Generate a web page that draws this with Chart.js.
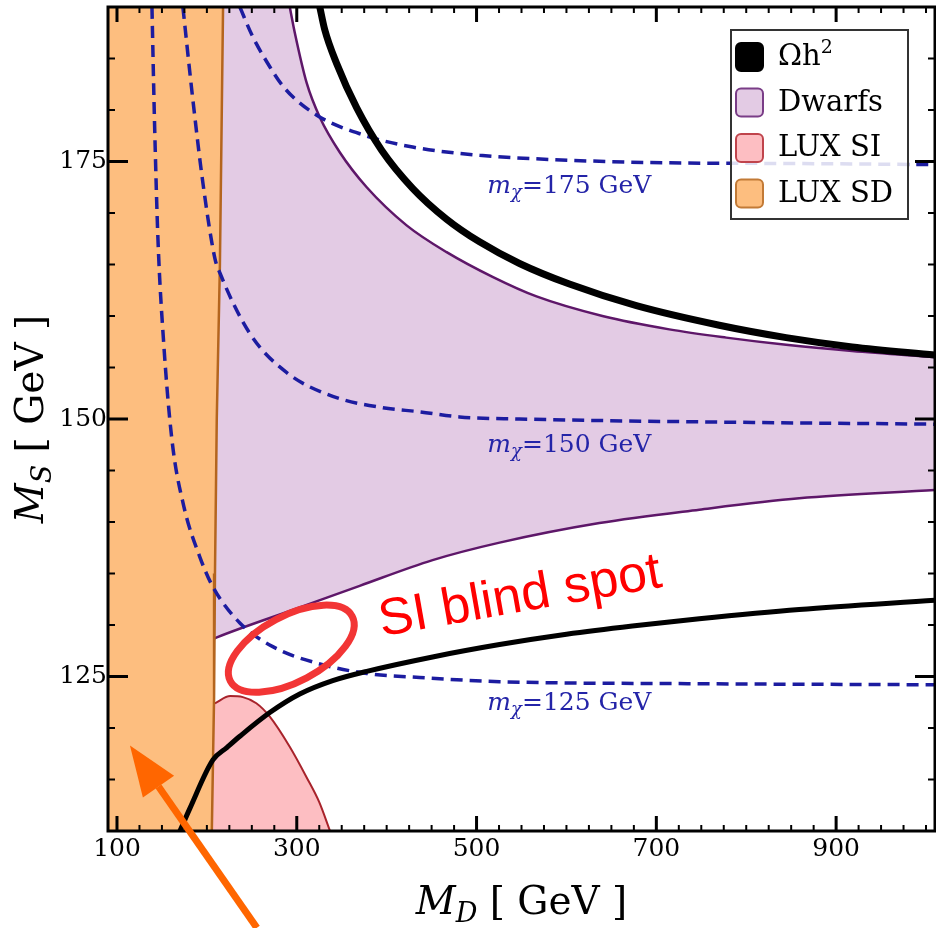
<!DOCTYPE html>
<html>
<head>
<meta charset="utf-8">
<script src="https://cdn.jsdelivr.net/npm/chart.js@4.4.1/dist/chart.umd.min.js"></script>
<style>
    html, body { margin: 0; padding: 0; background: #fff; }
</style>
</head>
<body>
<canvas id="chart" width="936" height="928"></canvas>
<script>
'use strict';

// axes
var xTicks = [100, 300, 500, 700, 900];
var yTicks = [125, 150, 175];

// LUX SD excluded band, right edge (M_D vs M_S)
var sdEdgeX = [218, 214.5, 211, 209, 208, 205.5];
var sdEdgeY = [190, 165, 150, 135, 123, 110];

// dwarf galaxy limit, upper and lower edge
var dwUpX = [292.2, 297.8, 311.1, 325.6, 347.8, 377.8, 422.2, 466.7, 517.8, 566.7, 640, 714.4, 777.8, 844.4, 917.8, 1010];
var dwUpY = [190, 187.5, 182.6, 179.3, 175.9, 172.5, 168.8, 166.2, 163.8, 161.9, 160, 158.7, 157.9, 157.2, 156.6, 156.0];
var dwLoX = [208.5, 211.1, 303.3, 370, 451.1, 525.6, 636.7, 747.8, 858.9, 1010];
var dwLoY = [128.7, 128.8, 131.7, 133.8, 136.3, 138.0, 139.9, 141.2, 142.3, 143.1];

// relic density contours
var relicUpX = [325.6, 331.1, 344.4, 366.7, 394.4, 428.9, 466.7, 503.3, 547.8, 603.3, 677.8, 770, 844.4, 917.8, 1010];
var relicUpY = [190, 187.8, 184.5, 180.2, 176.1, 172.4, 169.4, 167.2, 165.1, 163.1, 161.0, 159.1, 157.9, 157.0, 156.2];
var relicLoX = [170, 181.1, 206.7, 222.2, 236.7, 270, 303.3, 340, 377.8, 451.1, 525.6, 600, 673.3, 747.8, 858.9, 1010];
var relicLoY = [110, 112.2, 116.9, 118.1, 119.2, 121.5, 123.3, 124.6, 125.5, 126.9, 128.1, 129.1, 129.9, 130.6, 131.5, 132.4];

// LUX SI excluded region, upper edge
var siX = [204, 209, 226, 240, 255, 270, 292, 311, 325, 337];
var siY = [122.2, 122.4, 123.1, 123.0, 122.4, 121.1, 118.2, 115.2, 112.8, 110];

// m_chi contours
var mchiValues = [175, 150, 125];
var m175X = [236.7, 250, 264.4, 286.7, 322.2, 373.3, 428.9, 503.3, 581.1, 692.2, 858.9, 1010];
var m175Y = [190, 187.3, 185.0, 182.1, 179.5, 177.6, 176.4, 175.6, 175.2, 174.9, 174.8, 174.7];
var m150X = [173.3, 184.4, 195.6, 208.9, 214.4, 247.8, 288.9, 340, 395.6, 436.7, 481.1, 547.8, 770, 1010];
var m150Y = [190, 181, 172.9, 165.6, 164.2, 158.3, 154.5, 152.2, 151.1, 150.7, 150.2, 150, 149.7, 149.5];
var m125X = [138.9, 141.7, 145.6, 151.7, 161.1, 174.4, 192.2, 206.7, 236.7, 273.3, 322.2, 377.8, 436.7, 525.6, 747.8, 1010];
var m125Y = [190, 179.0, 167.4, 157.7, 148.0, 141.5, 136.6, 133.7, 130.2, 127.9, 126.3, 125.3, 124.9, 124.5, 124.3, 124.2];

var legendLabels = ['\u03A9h', 'Dwarfs', 'LUX SI', 'LUX SD'];

var SERIF = 'DejaVu Serif';
var DASH_BLUE = '#1c1ca0';

function pts(xs, ys) {
    return xs.map(function (x, i) {
        return { x: x, y: ys[i] };
    });
}

function reversed(a) {
    return a.slice().reverse();
}

function lineSet(data, color, width, order, dash, smooth) {
    return {
        data: data,
        borderColor: color,
        borderWidth: width,
        borderDash: dash || [],
        backgroundColor: 'transparent',
        fill: false,
        cubicInterpolationMode: smooth === false ? 'default' : 'monotone',
        tension: 0,
        pointRadius: 0,
        order: order
    };
}

function fillSet(data, color, order) {
    return {
        data: data,
        borderColor: 'rgba(0,0,0,0)',
        borderWidth: 0,
        backgroundColor: color,
        fill: 'shape',
        tension: 0,
        pointRadius: 0,
        order: order
    };
}

var sdPoly = pts(sdEdgeX, sdEdgeY).concat([{ x: 90, y: 110 }, { x: 90, y: 190 }]);
var dwPoly = pts(dwUpX, dwUpY)
    .concat(reversed(pts(dwLoX, dwLoY)))
    .concat([{ x: 200, y: 128.7 }, { x: 200, y: 190 }]);
var siPoly = pts(siX, siY).concat([{ x: 204, y: 110 }]);

// draw a run of text pieces (font, offset) from x, baseline y
function textRuns(ctx, runs, x, y, align) {
    var total = 0;
    runs.forEach(function (r) {
        ctx.font = r[1];
        total += ctx.measureText(r[0]).width;
    });
    var cx = align === 'center' ? x - total / 2 : x;
    ctx.textAlign = 'left';
    ctx.textBaseline = 'alphabetic';
    runs.forEach(function (r) {
        ctx.font = r[1];
        ctx.fillText(r[0], cx, y + (r[2] || 0));
        cx += ctx.measureText(r[0]).width;
    });
}

var framePlugin = {
    id: 'frame',
    afterDatasetsDraw: function (chart) {
        var ctx = chart.ctx;
        var a = chart.chartArea;
        var xs = chart.scales.x;
        var ys = chart.scales.y;
        var v, p;

        ctx.save();
        ctx.strokeStyle = '#000';
        ctx.lineCap = 'butt';

        // minor ticks
        ctx.lineWidth = 2;
        ctx.beginPath();
        for (v = 125; v <= 1000; v += 25) {
            if (xTicks.indexOf(v) >= 0) continue;
            p = xs.getPixelForValue(v);
            ctx.moveTo(p, a.bottom); ctx.lineTo(p, a.bottom - 6);
            ctx.moveTo(p, a.top); ctx.lineTo(p, a.top + 6);
        }
        for (v = 115; v <= 185; v += 5) {
            if (yTicks.indexOf(v) >= 0) continue;
            p = ys.getPixelForValue(v);
            ctx.moveTo(a.left, p); ctx.lineTo(a.left + 7, p);
            ctx.moveTo(a.right, p); ctx.lineTo(a.right - 7, p);
        }
        ctx.stroke();

        // major ticks
        ctx.lineWidth = 3;
        ctx.beginPath();
        xTicks.forEach(function (t) {
            var px = xs.getPixelForValue(t);
            ctx.moveTo(px, a.bottom); ctx.lineTo(px, a.bottom - 15);
            ctx.moveTo(px, a.top); ctx.lineTo(px, a.top + 15);
        });
        yTicks.forEach(function (t) {
            var py = ys.getPixelForValue(t);
            ctx.moveTo(a.left, py); ctx.lineTo(a.left + 20, py);
            ctx.moveTo(a.right, py); ctx.lineTo(a.right - 20, py);
        });
        ctx.stroke();

        ctx.lineWidth = 3;
        ctx.strokeRect(a.left, a.top, a.right - a.left, a.bottom - a.top);
        ctx.restore();
    }
};

var notesPlugin = {
    id: 'notes',
    afterDatasetsDraw: function (chart) {
        var ctx = chart.ctx;
        var a = chart.chartArea;
        var xs = chart.scales.x;
        var ys = chart.scales.y;

        ctx.save();

        // m_chi labels
        var labelBase = [171.9, 146.8, 121.7];
        ctx.fillStyle = '#2424a8';
        mchiValues.forEach(function (m, i) {
            textRuns(ctx, [
                ['m', 'italic 25px ' + SERIF, 0],
                ['\u03C7', 'italic 18px ' + SERIF, 5],
                ['=' + m + ' GeV', '25px ' + SERIF, 0]
            ], xs.getPixelForValue(512), ys.getPixelForValue(labelBase[i]), 'left');
        });

        // legend box
        var bx = a.right - 204, by = a.top + 23, bw = 177, bh = 189;
        ctx.fillStyle = 'rgba(255,255,255,0.85)';
        ctx.fillRect(bx, by, bw, bh);
        ctx.strokeStyle = '#333';
        ctx.lineWidth = 2;
        ctx.strokeRect(bx, by, bw, bh);
        var sw = [
            ['#000000', '#000000'],
            ['#e3cbe4', '#7a3d87'],
            ['#fdbec2', '#c0444c'],
            ['#fdbe7f', '#c27a36']
        ];
        legendLabels.forEach(function (lab, i) {
            var cy = by + 27 + i * 45.5;
            ctx.beginPath();
            if (ctx.roundRect) {
                ctx.roundRect(bx + 5, cy - 14, 27, 28, 5);
            } else {
                ctx.rect(bx + 5, cy - 14, 27, 28);
            }
            ctx.fillStyle = sw[i][0];
            ctx.fill();
            ctx.lineWidth = 2;
            ctx.strokeStyle = sw[i][1];
            ctx.stroke();
            ctx.fillStyle = '#000';
            var runs = [[lab, '29px ' + SERIF, 0]];
            if (i === 0) {
                runs.push(['2', '19px ' + SERIF, -12]);
            }
            textRuns(ctx, runs, bx + 47, cy + 8, 'left');
        });

        // blind spot ellipse
        var ex = xs.getPixelForValue(293.9), ey = ys.getPixelForValue(127.7);
        ctx.beginPath();
        ctx.ellipse(ex, ey, 69, 33, -28 * Math.PI / 180, 0, 2 * Math.PI);
        ctx.strokeStyle = '#f23535';
        ctx.lineWidth = 7;
        ctx.stroke();

        // blind spot text
        ctx.save();
        ctx.translate(xs.getPixelForValue(394.4), ys.getPixelForValue(128.9));
        ctx.rotate(-10 * Math.PI / 180);
        ctx.fillStyle = '#ff0000';
        ctx.font = '52px "Liberation Sans"';
        ctx.textAlign = 'left';
        ctx.textBaseline = 'alphabetic';
        ctx.fillText('SI blind spot', 0, 0);
        ctx.restore();

        // arrow into the SD band
        var tx = xs.getPixelForValue(114.4), ty = ys.getPixelForValue(118.3);
        var sx = xs.getPixelForValue(255.6), sy = ys.getPixelForValue(100.6);
        var ang = Math.atan2(ty - sy, tx - sx);
        var headLen = 50, headHalf = 19;
        var hx = tx - headLen * Math.cos(ang), hy = ty - headLen * Math.sin(ang);
        ctx.strokeStyle = '#ff6600';
        ctx.fillStyle = '#ff6600';
        ctx.lineWidth = 7;
        ctx.beginPath();
        ctx.moveTo(sx, sy);
        ctx.lineTo(hx, hy);
        ctx.stroke();
        ctx.beginPath();
        ctx.moveTo(tx, ty);
        ctx.lineTo(hx + headHalf * Math.sin(ang), hy - headHalf * Math.cos(ang));
        ctx.lineTo(hx - headHalf * Math.sin(ang), hy + headHalf * Math.cos(ang));
        ctx.closePath();
        ctx.fill();

        ctx.restore();
    },
    afterDraw: function (chart) {
        var ctx = chart.ctx;
        var a = chart.chartArea;
        var title = [
            ['M', 'italic 39px ' + SERIF, 0],
            ['D', 'italic 27px ' + SERIF, 8],
            [' [ GeV ]', '39px ' + SERIF, 0]
        ];
        ctx.save();
        ctx.fillStyle = '#000';
        textRuns(ctx, title, (a.left + a.right) / 2, 914, 'center');
        ctx.translate(43, (a.top + a.bottom) / 2);
        ctx.rotate(-Math.PI / 2);
        title[1] = ['S', 'italic 27px ' + SERIF, 8];
        textRuns(ctx, title, 0, 0, 'center');
        ctx.restore();
    }
};

var tickFont = { family: SERIF, size: 25 };

var chart = new Chart(document.getElementById('chart').getContext('2d'), {
    type: 'line',
    data: {
        datasets: [
            lineSet(pts(relicLoX, relicLoY), '#000', 5, 0),
            lineSet(pts(relicUpX, relicUpY), '#000', 7, 1),
            lineSet(pts(m175X, m175Y), DASH_BLUE, 3.5, 2, [12, 7]),
            lineSet(pts(m150X, m150Y), DASH_BLUE, 3.5, 2, [12, 7]),
            lineSet(pts(m125X, m125Y), DASH_BLUE, 3.5, 2, [12, 7]),
            lineSet(pts(sdEdgeX, sdEdgeY), '#b4651e', 2.5, 3, null, false),
            fillSet(sdPoly, '#fdbe7f', 4),
            lineSet(pts(siX.slice(1), siY.slice(1)), '#a8232b', 2, 5),
            fillSet(siPoly, '#fdbec2', 6),
            lineSet(pts(dwUpX, dwUpY), '#5e1769', 2.5, 7),
            lineSet(pts(dwLoX, dwLoY), '#5e1769', 2.5, 7),
            fillSet(dwPoly, '#e3cbe4', 8)
        ]
    },
    options: {
        responsive: false,
        animation: false,
        devicePixelRatio: 1,
        layout: { padding: { top: 7, right: 1, left: 0, bottom: 0 } },
        plugins: {
            legend: { display: false },
            tooltip: { enabled: false }
        },
        scales: {
            x: {
                type: 'linear',
                min: 90,
                max: 1010,
                grid: { display: false, drawTicks: false },
                border: { display: false },
                ticks: {
                    font: tickFont,
                    color: '#000',
                    padding: 3,
                    maxRotation: 0,
                    autoSkip: false,
                    callback: function (v) { return String(v); }
                },
                afterBuildTicks: function (s) {
                    s.ticks = xTicks.map(function (v) { return { value: v }; });
                },
                afterFit: function (s) {
                    s.height = 97;
                    s.paddingLeft = 0;
                    s.paddingRight = 0;
                }
            },
            y: {
                type: 'linear',
                min: 110,
                max: 190,
                grid: { display: false, drawTicks: false },
                border: { display: false },
                ticks: {
                    font: tickFont,
                    color: '#000',
                    padding: 1,
                    autoSkip: false,
                    callback: function (v) { return String(v); }
                },
                afterBuildTicks: function (s) {
                    s.ticks = yTicks.map(function (v) { return { value: v }; });
                },
                afterFit: function (s) {
                    s.width = 108;
                    s.paddingTop = 0;
                    s.paddingBottom = 0;
                }
            }
        }
    },
    plugins: [framePlugin, notesPlugin]
});
</script>
</body>
</html>
